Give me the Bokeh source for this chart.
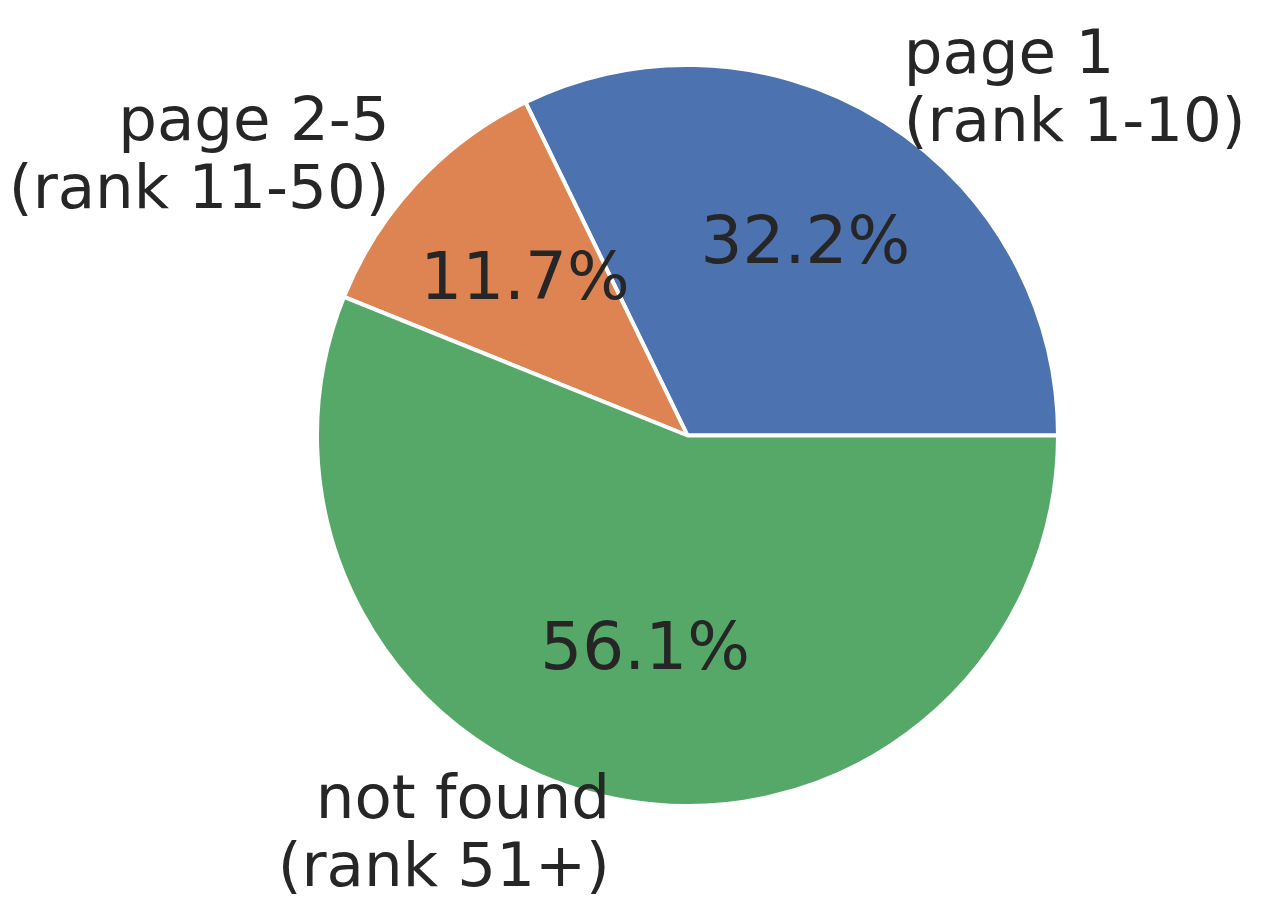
import numpy as np
from bokeh.plotting import figure
from bokeh.models import Range1d, ColumnDataSource
from bokeh.core.properties import value
from bokeh.embed import file_html
from bokeh.resources import INLINE

# ---- data ----
categories = ["page 1\n(rank 1-10)", "page 2-5\n(rank 11-50)", "not found\n(rank 51+)"]
shares = [32.2, 11.7, 56.1]
colors = ["#4C72B0", "#DD8452", "#55A868"]

# ---- layout constants (pixels) ----
W, H = 1258, 914
R_PX = 370.5          # pie radius in px
CX, CY = 687.0, 435.0 # pie centre within the figure (px from left / top)
TEXT_COLOR = "#262626"
LABEL_SIZE = 61
PCT_SIZE = 66
LINE_SP = 68
LABEL_BASE = -5
PCT_BASE = -7

fr = np.array(shares) / np.sum(shares)
ends = np.cumsum(fr) * 2 * np.pi
starts = np.concatenate([[0.0], ends[:-1]])
mids = (starts + ends) / 2

p = figure(width=W, height=H, output_backend="svg", toolbar_location=None,
           x_axis_location=None, y_axis_location=None, min_border=0,
           x_range=Range1d(-CX / R_PX, (W - CX) / R_PX),
           y_range=Range1d(-(H - CY) / R_PX, CY / R_PX))
p.grid.visible = False
p.outline_line_color = None
p.background_fill_color = "white"
p.border_fill_color = "white"

src = ColumnDataSource(dict(start=starts, end=ends, color=colors))
p.wedge(x=0, y=0, radius=1.0, start_angle="start", end_angle="end",
        direction="anticlock", fill_color="color", line_color="white",
        line_width=4, source=src)

# percentage texts
pct = [f"{s:.1f}%" for s in shares]
p.text(x=0.6 * np.cos(mids), y=0.6 * np.sin(mids), text=pct,
       text_align="center", text_baseline="alphabetic", y_offset=PCT_BASE,
       text_font=value("DejaVu Sans"), text_font_size=f"{PCT_SIZE}px",
       text_color=TEXT_COLOR)

# outer labels (multi-line, each line drawn separately)
lx, ly, lt, la, lo = [], [], [], [], []
for cat, m in zip(categories, mids):
    lines = cat.split("\n")
    n = len(lines)
    for i, ln in enumerate(lines):
        lx.append(1.1 * np.cos(m))
        ly.append(1.1 * np.sin(m))
        lt.append(ln)
        la.append("left" if np.cos(m) > 0 else "right")
        lo.append(LABEL_BASE + (i - (n - 1) / 2) * LINE_SP)
p.text(x=lx, y=ly, text=lt, text_align=la, text_baseline="alphabetic",
       y_offset=lo, text_font=value("DejaVu Sans"),
       text_font_size=f"{LABEL_SIZE}px", text_color=TEXT_COLOR)

open("out.html", "w").write(file_html(p, INLINE))
